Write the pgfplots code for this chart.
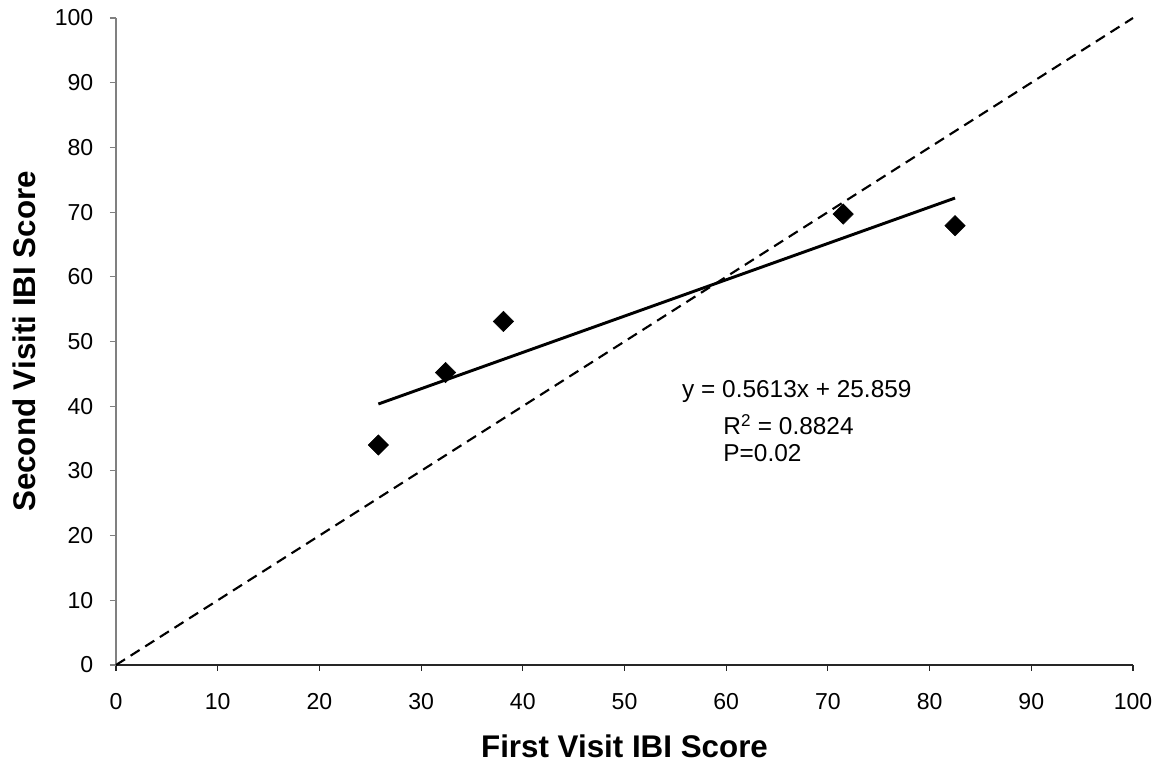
\documentclass[border=0pt]{standalone}
\usepackage{fontspec}
\setmainfont{Liberation Sans}
\usepackage{pgfplots}
\pgfplotsset{compat=1.18}
\begin{document}
\begin{tikzpicture}
\useasboundingbox (-87pt,-76.5pt) rectangle (788.25pt,498.75pt);
\begin{axis}[
  scale only axis, width=762.75pt, height=485.25pt,
  xmin=0, xmax=100, ymin=0, ymax=100,
  axis lines=left, axis line style={-},
  x axis line style={black!85, line width=0.8pt},
  y axis line style={black!50, line width=0.8pt},
  xtick={0,10,...,100}, ytick={0,10,...,100},
  tick align=outside, major tick length=4.5pt,
  x tick style={black!85, line width=0.8pt},
  y tick style={black!50, line width=0.8pt},
  ticklabel style={font=\fontsize{17.3}{20}\selectfont},
  xticklabel style={yshift=-13.5pt},
  yticklabel style={xshift=-9pt},
  /pgf/number format/assume math mode=true,
  clip=false,
  xlabel={First Visit IBI Score},
  ylabel={Second Visiti IBI Score},
  label style={font=\bfseries\fontsize{23.5}{28}\selectfont},
  xlabel style={at={(axis description cs:0.5,-0.1437)}, anchor=base},
  ylabel style={at={(axis description cs:-0.0787,0.5)}, anchor=base, rotate=0},
]
\addplot[black, line width=1.6pt, dash pattern=on 8pt off 5pt] coordinates {(0,0) (100,100)};
\addplot[black, line width=2.2pt] coordinates {(25.8,40.34) (82.5,72.17)};
\addplot[only marks, mark=square*, mark size=5.4pt, mark options={rotate=45, fill=black, draw=black}] coordinates {
(25.8,34.0) (32.4,45.2) (38.1,53.1) (71.5,69.7) (82.5,67.9)};
\node[anchor=base west, font=\fontsize{18.3}{22}\selectfont, inner sep=0pt] at (axis cs:55.65,41.4) {y = 0.5613x + 25.859};
\node[anchor=base west, font=\fontsize{18.3}{22}\selectfont, inner sep=0pt] at (axis cs:59.7,35.6) {R\textsuperscript{2} = 0.8824};
\node[anchor=base west, font=\fontsize{18.3}{22}\selectfont, inner sep=0pt] at (axis cs:59.7,31.4) {P=0.02};
\end{axis}
\end{tikzpicture}
\end{document}
